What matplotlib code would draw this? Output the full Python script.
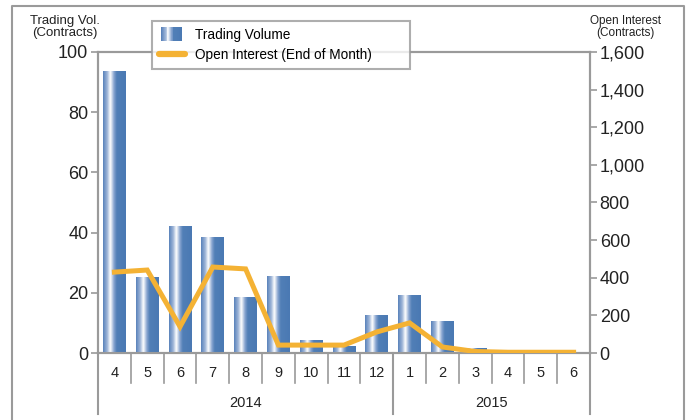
import matplotlib
matplotlib.use("Agg")
import matplotlib.pyplot as plt
import numpy as np
from matplotlib.colors import LinearSegmentedColormap
from matplotlib.legend_handler import HandlerBase
from matplotlib.patches import Rectangle
from matplotlib.lines import Line2D

plt.rcParams['font.family'] = ['Liberation Sans', 'DejaVu Sans']

months = ["4", "5", "6", "7", "8", "9", "10", "11", "12", "1", "2", "3", "4", "5", "6"]
years = ["2014", "2015"]
year_counts = [9, 6]
volume = [93.5, 25, 42, 38.5, 18.3, 25.3, 4, 2, 12.3, 19, 10.3, 1.5, 0, 0.3, 0]
open_interest = [430, 441, 140, 457, 447, 42, 42, 42, 112, 160, 32, 8, 4, 4, 4]

GRAY = "#9a9a9a"
ORANGE = "#f4b234"
cmap = LinearSegmentedColormap.from_list("bar", [
    (0.0, "#5a83bb"), (0.18, "#9fb6d8"), (0.32, "#ffffff"),
    (0.48, "#86a3cf"), (0.6, "#517fb7"), (1.0, "#4a79b3")])
grad = np.linspace(0, 1, 64).reshape(1, -1)

fig = plt.figure(figsize=(6.92, 4.2), dpi=100)
W, H = 692, 420
ax = fig.add_axes([98 / W, 1 - 353 / H, (590 - 98) / W, (353 - 52) / H])
ax2 = ax.twinx()

x = np.arange(len(months))
bw = 0.7
bars = ax.bar(x, volume, width=bw, color="#4a79b3", zorder=2)
for b in bars:
    h = b.get_height()
    if h > 0:
        ax.imshow(grad, extent=[b.get_x(), b.get_x() + bw, 0, h], aspect='auto',
                  cmap=cmap, zorder=3, interpolation='bilinear')

ax2.plot(x, open_interest, color=ORANGE, lw=3.6, solid_joinstyle='miter', zorder=4)

ax.set_xlim(-0.5, len(months) - 0.5)
ax.set_ylim(0, 100)
ax2.set_ylim(0, 1600)
ax.set_yticks(range(0, 101, 20))
ax2.set_yticks(range(0, 1601, 200))
ax2.set_yticklabels([f"{v:,}" for v in range(0, 1601, 200)])
ax.set_xticks([])

for a in (ax, ax2):
    for s in a.spines.values():
        s.set_color(GRAY)
        s.set_linewidth(1.5)
    a.tick_params(axis='y', colors=GRAY, labelcolor="#222222", labelsize=13,
                  length=5, width=1.2, pad=2)

# category axis separators
tr = ax.get_xaxis_transform()
for i in range(len(months) - 1):
    ax.plot([i + 0.5, i + 0.5], [0, -30 / 301], transform=tr, color=GRAY, lw=1.2, clip_on=False)
for i, m in enumerate(months):
    ax.text(i, -20 / 301, m, transform=tr, ha='center', va='center', fontsize=10.5, color="#222222")
bounds = np.concatenate([[0], np.cumsum(year_counts)]) - 0.5
for bx in bounds:
    ax.plot([bx, bx], [0, -61 / 301], transform=tr, color=GRAY, lw=1.5, clip_on=False)
for k, yname in enumerate(years):
    ax.text((bounds[k] + bounds[k + 1]) / 2, -50 / 301, yname, transform=tr,
            ha='center', va='center', fontsize=10.5, color="#222222")

# axis titles
fig.text(65 / W, 1 - 27 / H, "Trading Vol.\n(Contracts)", ha='center', va='center',
         fontsize=9.5, color="#222222", linespacing=1.0)
fig.text(625 / W, 1 - 27 / H, "Open Interest\n(Contracts)", ha='center', va='center',
         fontsize=8.5, color="#222222", linespacing=1.0)

# outer frame
fig.add_artist(Line2D([12 / W, 12 / W, 684 / W, 684 / W], [0, 1 - 6 / H, 1 - 6 / H, 0],
                      transform=fig.transFigure, color=GRAY, lw=1.5))


class GradHandler(HandlerBase):
    def create_artists(self, legend, orig, xd, yd, width, height, fontsize, trans):
        arts = []
        n = 24
        w = width * 0.8
        x0 = xd + (width - w) / 2
        for j in range(n):
            arts.append(Rectangle((x0 + j * w / n, yd - 1.5), w / n + 0.3, height + 3,
                                  facecolor=cmap(j / (n - 1)), edgecolor='none', transform=trans))
        return arts


proxy = Rectangle((0, 0), 1, 1)
line_proxy = Line2D([0], [0], color=ORANGE, lw=4.5, solid_capstyle='round')
leg = fig.legend([proxy, line_proxy], ["Trading Volume", "Open Interest (End of Month)"],
                 handler_map={Rectangle: GradHandler()},
                 loc='upper left', bbox_to_anchor=(152 / W, 1 - 70 / H, 258 / W, 49 / H),
                 mode='expand',
                 frameon=True, fancybox=False, fontsize=9.8, handlelength=1.9,
                 borderpad=0.5, labelspacing=0.45, handletextpad=0.75, borderaxespad=0)
leg.get_frame().set_edgecolor(GRAY)
leg.get_frame().set_linewidth(1.5)

fig.savefig("out.png", dpi=100)
